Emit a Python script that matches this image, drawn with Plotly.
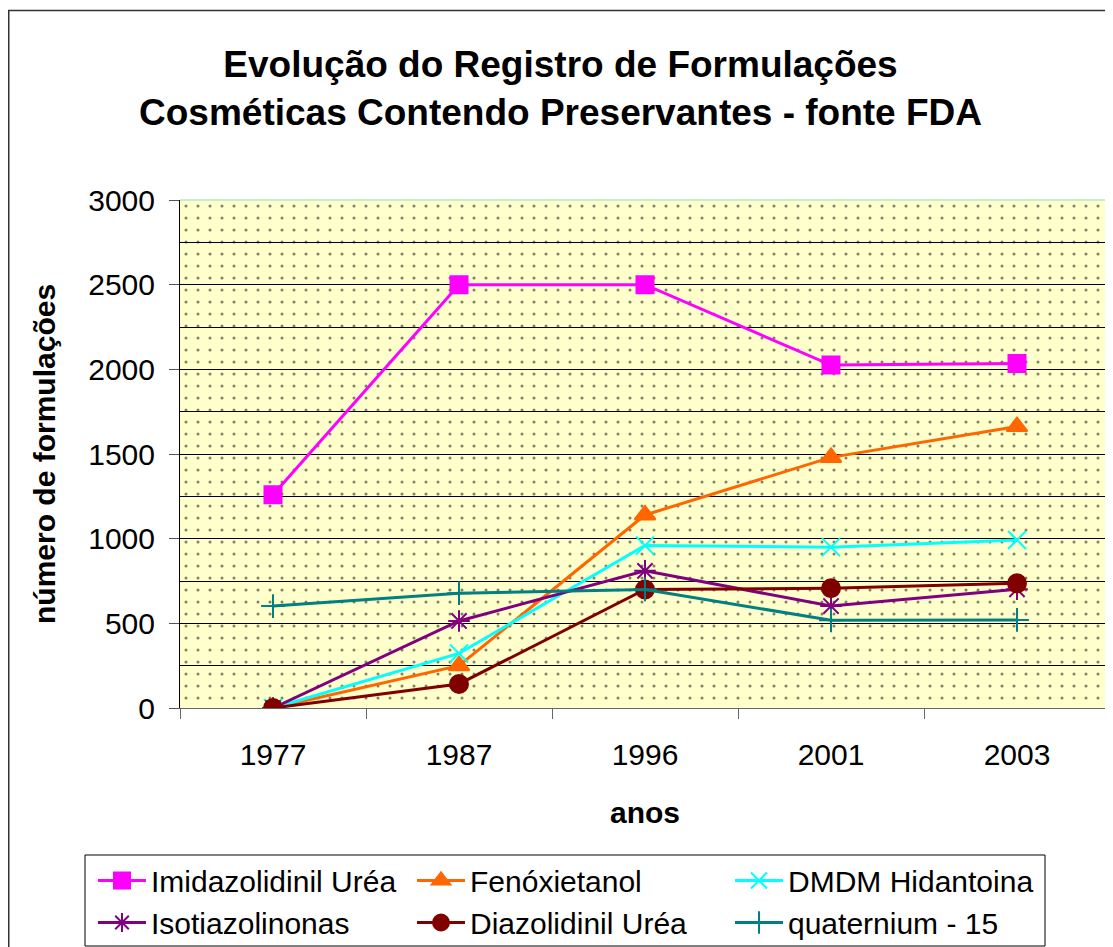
import plotly.graph_objects as go

# The page adds an 8 px body margin, so the figure is 8 px smaller and all
# pixel positions below are page positions minus 8.
W, H = 1105, 939
ML, MR, MT, MB = 172, 3, 192, 239
PW, PH = W - ML - MR, H - MT - MB

years = ["1977", "1987", "1996", "2001", "2003"]
series_names = ["Imidazolidinil Uréa", "Fenóxietanol", "DMDM Hidantoina",
                "Isotiazolinonas", "Diazolidinil Uréa", "quaternium - 15"]
imidazolidinil = [1260, 2500, 2500, 2025, 2035]
fenoxietanol = [0, 250, 1140, 1480, 1662]
dmdm = [0, 322, 960, 950, 992]
isotiazolinonas = [0, 514, 810, 602, 701]
diazolidinil = [0, 142, 700, 707, 736]
quaternium = [602, 678, 700, 518, 520]
yticks = [0, 500, 1000, 1500, 2000, 2500, 3000]

values = [imidazolidinil, fenoxietanol, dmdm, isotiazolinonas, diazolidinil, quaternium]
colors = ["#FF00FF", "#FF6600", "#00FFFF", "#800080", "#800000", "#008080"]
symbols = ["square", "triangle-up", "x-thin-open", "asterisk-open", "circle", "cross-thin-open"]
sizes = [17, 18, 18, 18, 18, 17]
legend_ids = ["legend", "legend2", "legend3", "legend", "legend2", "legend3"]

FONT = "Liberation Sans, Arial, sans-serif"


def px_x(px):
    return (px - ML) / PW


def px_y(py):
    return (H - MB - py) / PH


fig = go.Figure()

# dotted background pattern (decoration) on the main hidden axes
fig.add_trace(go.Bar(
    x=[0.5], y=[1], width=[1], xaxis="x", yaxis="y",
    marker=dict(color="rgba(0,0,0,0)", line=dict(width=0),
                pattern=dict(shape=".", fgcolor="black", bgcolor="rgba(0,0,0,0)",
                             size=12, solidity=0.05, fillmode="overlay")),
    showlegend=False, hoverinfo="skip",
))

for i, (name, vals) in enumerate(zip(series_names, values)):
    fig.add_trace(go.Scatter(
        x=years, y=vals, name=name, mode="lines+markers",
        xaxis="x2", yaxis="y2",
        line=dict(color=colors[i], width=3),
        marker=dict(symbol=symbols[i], size=sizes[i], color=colors[i],
                    line=dict(color=colors[i], width=2)),
        legend=legend_ids[i],
    ))

legend_common = dict(
    orientation="v", xref="container", yref="container",
    xanchor="left", yanchor="middle", y=1 - 893.5 / H,
    itemwidth=48, tracegroupgap=0,
    font=dict(family=FONT, size=30, color="black"),
    bgcolor="rgba(0,0,0,0)", borderwidth=0, traceorder="normal",
)

fig.update_layout(
    width=W, height=H,
    margin=dict(l=ML, r=MR, t=MT, b=MB, autoexpand=False),
    paper_bgcolor="white", plot_bgcolor="#FFFFCC",
    font=dict(family=FONT, color="black"),
    title=dict(
        text="<b>Evolução do Registro de Formulações<br>Cosméticas Contendo Preservantes - fonte FDA</b>",
        x=0.5, xanchor="center", xref="container",
        y=1 - 69 / H, yanchor="top", yref="container",
        font=dict(family=FONT, size=37, color="black"),
    ),
    barmode="overlay",
    xaxis=dict(range=[0, 1], visible=False, fixedrange=True),
    yaxis=dict(range=[0, 1], visible=False, fixedrange=True),
    xaxis2=dict(
        overlaying="x", side="bottom", type="category",
        categoryorder="array", categoryarray=years,
        range=[-0.5, 4.5], tickson="boundaries",
        ticks="outside", ticklen=10, tickcolor="#666666", tickwidth=1,
        showline=True, linecolor="#666666", linewidth=1,
        showgrid=False, zeroline=False, tickangle=0, automargin=False,
        tickfont=dict(family=FONT, size=30, color="black"),
        ticklabelstandoff=20,
    ),
    yaxis2=dict(
        overlaying="y", side="left", range=[0, 3000],
        tickvals=yticks, ticktext=[str(v) for v in yticks],
        ticks="outside", ticklen=10, tickcolor="#555555", tickwidth=1,
        showline=True, linecolor="black", linewidth=1,
        showgrid=True, gridcolor="black", gridwidth=1,
        minor=dict(dtick=250, showgrid=True, gridcolor="black", gridwidth=1, ticks=""),
        zeroline=False, automargin=False,
        tickfont=dict(family=FONT, size=30, color="black"),
        ticklabelstandoff=8,
    ),
    legend=dict(legend_common, x=85 / W),
    legend2=dict(legend_common, x=404 / W),
    legend3=dict(legend_common, x=722 / W),
    annotations=[
        dict(text="<b>anos</b>", xref="paper", yref="paper",
             x=0.5, y=px_y(804), xanchor="center", yanchor="middle",
             showarrow=False, font=dict(family=FONT, size=30, color="black")),
        dict(text="<b>número de formulações</b>", xref="paper", yref="paper",
             x=px_x(36), y=0.5, xanchor="center", yanchor="middle", textangle=-90,
             showarrow=False, font=dict(family=FONT, size=30, color="black")),
    ],
    shapes=[
        # outer chart border
        dict(type="rect", xref="paper", yref="paper",
             x0=px_x(0.75), x1=px_x(1120), y0=px_y(960), y1=px_y(2.5),
             line=dict(color="#333333", width=1.5), fillcolor="rgba(0,0,0,0)", layer="below"),
        # plot area border (top, right)
        dict(type="line", xref="paper", yref="paper", x0=0, x1=1, y0=1, y1=1,
             line=dict(color="#C8F0C8", width=2), layer="above"),
        dict(type="line", xref="paper", yref="paper", x0=1, x1=1, y0=0, y1=1,
             line=dict(color="#C8F0C8", width=2), layer="above"),
        # legend box
        dict(type="rect", xref="paper", yref="paper",
             x0=px_x(77), x1=px_x(1037), y0=px_y(938), y1=px_y(847),
             line=dict(color="black", width=1), fillcolor="rgba(0,0,0,0)"),
    ],
)

fig.write_html("out.html")
